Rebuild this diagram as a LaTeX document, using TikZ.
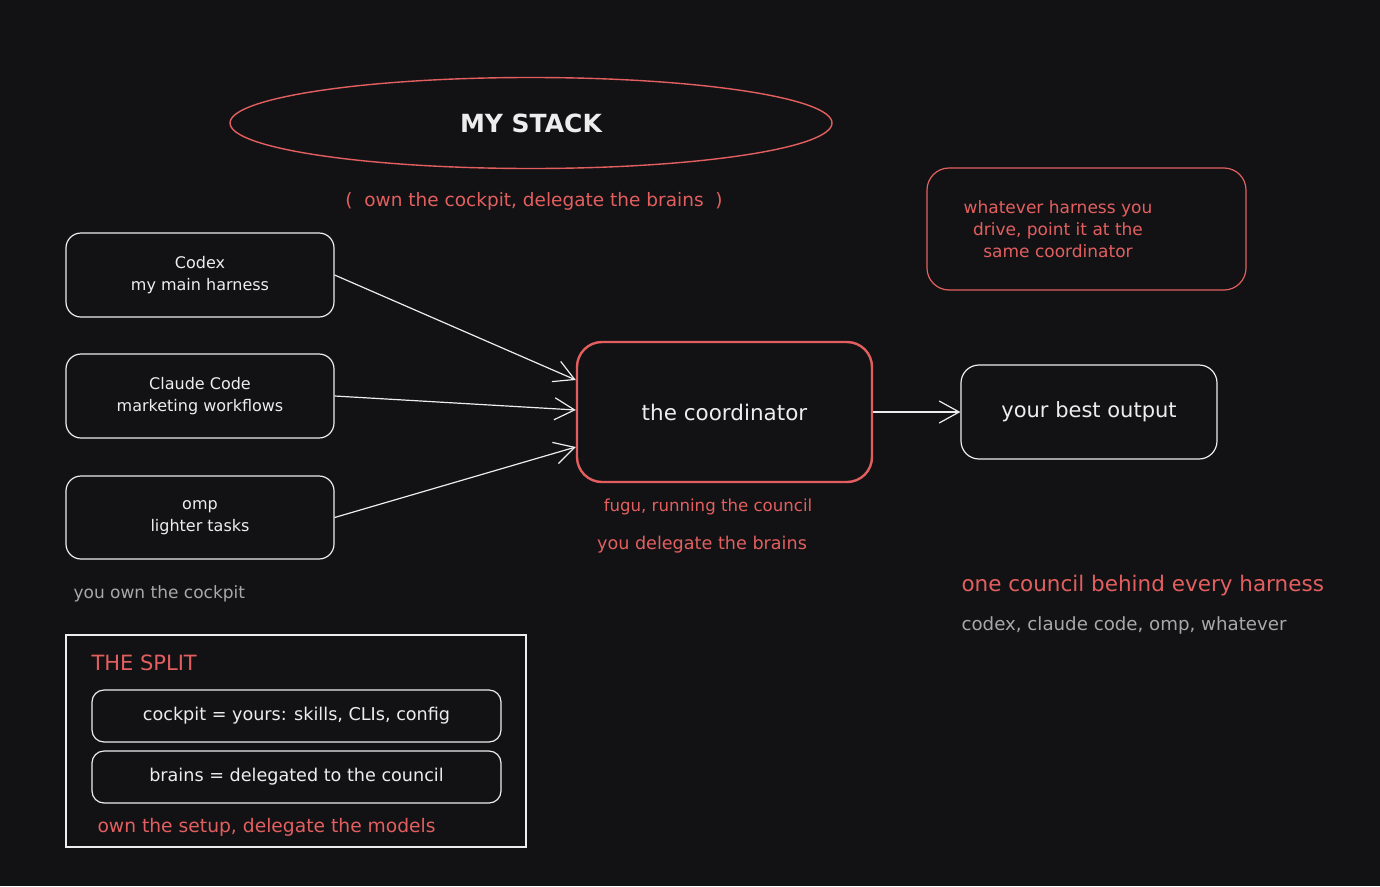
\documentclass[tikz,border=0pt]{standalone}
\usepackage{fontspec}
\setmainfont{DejaVu Sans}
\usetikzlibrary{arrows.meta,shapes.geometric}
\definecolor{bg}{HTML}{121215}
\definecolor{red}{HTML}{E35F5F}
\definecolor{wht}{HTML}{EDEDED}
\definecolor{gry}{HTML}{A8A8A8}
\tikzset{
  box/.style={draw=wht,line width=1.2pt,rounded corners=15pt,fill=bg,text=wht,align=center,font=\fontsize{16}{22}\selectfont},
  arr/.style={draw=wht,line width=1.2pt,-{Straight Barb[length=20pt,width=22pt,line width=1.2pt]}},
  redtxt/.style={text=red,font=\fontsize{17}{22}\selectfont},
  grytxt/.style={text=gry,font=\fontsize{17}{22}\selectfont},
}
\begin{document}
\begin{tikzpicture}[x=1pt,y=-1pt]
\useasboundingbox (0,0) rectangle (1380,886);
\fill[bg] (0,0) rectangle (1380,886);
% title ellipse
\node[draw=red,line width=1.4pt,ellipse,minimum width=602pt,minimum height=91pt,inner sep=0pt,text=wht,font=\bfseries\fontsize{25}{30}\selectfont] (title) at (531,123) {MY STACK};
\node[redtxt,font=\fontsize{18.5}{22}\selectfont] (sub) at (534,201) {(\ \ own the cockpit, delegate the brains\ \ )};
% harness boxes
\node[box,minimum width=268pt,minimum height=84pt] (codex) at (200,275) {Codex\\my main harness};
\node[box,minimum width=268pt,minimum height=84pt] (claude) at (200,396) {Claude Code\\marketing workflows};
\node[box,minimum width=268pt,minimum height=83pt] (omp) at (200,517.5) {omp\\lighter tasks};
% coordinator
\node[box,draw=red,line width=2.4pt,rounded corners=25pt,minimum width=295pt,minimum height=140pt,font=\fontsize{21.5}{26}\selectfont] (coord) at (724.5,412) {the coordinator};
\node[box,rounded corners=18pt,minimum width=256pt,minimum height=94pt,font=\fontsize{21}{26}\selectfont] (out) at (1089,412) {your best output};
% note
\node[box,draw=red,rounded corners=22pt,minimum width=319pt,minimum height=122pt] (note) at (1086.5,229) {};
\node[text=red,align=center,font=\fontsize{17}{22}\selectfont] (notetxt) at (1058,229) {whatever harness you\\drive, point it at the\\same coordinator};
% arrows
\draw[arr] (codex.east) -- ([yshift=32pt]coord.west);
\draw[arr] (claude.east) -- ([yshift=2pt]coord.west);
\draw[arr] (omp.east) -- ([yshift=-35pt]coord.west);
\draw[arr] (coord.east) -- (out.west);
% labels
\node[redtxt,font=\fontsize{16.6}{22}\selectfont] (fugu) at (708,507) {fugu, running the council};
\node[redtxt,font=\fontsize{17.6}{22}\selectfont] (deleg) at (702,545) {you delegate the brains};
\node[grytxt,anchor=west] (own) at (70,594) {you own the cockpit};
% split panel
\draw[draw=wht,line width=1.2pt] (66,635) rectangle (526,847);
\node[text=red,anchor=west,font=\fontsize{21}{22}\selectfont] (split) at (88,663) {THE SPLIT};
\node[box,rounded corners=12pt,minimum width=409pt,minimum height=52pt,font=\fontsize{17.6}{22}\selectfont] (ck) at (296.5,716) {cockpit = yours: skills, CLIs, config};
\node[box,rounded corners=12pt,minimum width=409pt,minimum height=52pt,font=\fontsize{17.6}{22}\selectfont] (br) at (296.5,777) {brains = delegated to the council};
\node[text=red,anchor=west,font=\fontsize{18.7}{22}\selectfont] (setup) at (94,827) {own the setup, delegate the models};
% right notes
\node[text=red,anchor=west,font=\fontsize{21.5}{26}\selectfont] (one) at (958,586) {one council behind every harness};
\node[grytxt,anchor=west,font=\fontsize{18.2}{22}\selectfont] (list) at (958,625) {codex, claude code, omp, whatever};
\end{tikzpicture}
\end{document}
